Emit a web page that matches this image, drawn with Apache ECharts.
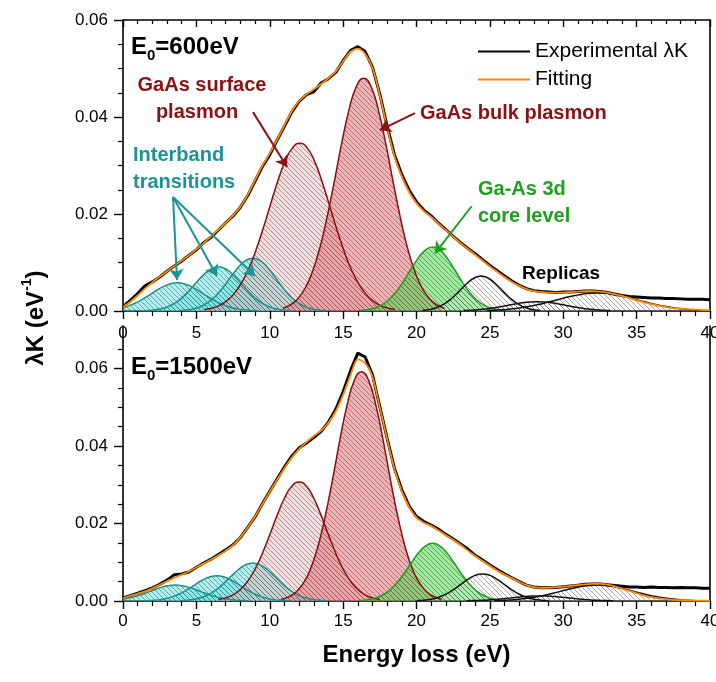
<!DOCTYPE html>
<html>
<head>
<meta charset="utf-8">
<script src="https://cdn.jsdelivr.net/npm/echarts@6/dist/echarts.min.js"></script>
<style>
html, body { margin: 0; padding: 0; background: #fff; }
#chart { width: 716px; height: 682px; }
</style>
</head>
<body>
<div id="chart"></div>
<script>
// energy grid (eV) shared by the measured and fitted curves
var energy = [0,0.5,1,1.5,2,2.5,3,3.5,4,4.5, 5,5.5,6,6.5,7,7.5,8,8.5,9,9.5,
  10,10.5,11,11.5,12,12.5,13,13.5,14,14.5, 15,15.5,16,16.5,17,17.5,18,18.5,19,19.5,
  20,20.5,21,21.5,22,22.5,23,23.5,24,24.5, 25,25.5,26,26.5,27,27.5,28,28.5,29,29.5,
  30,30.5,31,31.5,32,32.5,33,33.5,34,34.5, 35,35.5,36,36.5,37,37.5,38,38.5,39,39.5, 40];

// E0 = 600 eV
var exp600 = [0.0009,0.0022,0.0036,0.0052,0.0060,0.0070,0.0082,0.0093,0.0103,0.0115,
  0.0126,0.0141,0.0152,0.0167,0.0182,0.0196,0.0214,0.0238,0.0268,0.0298,
  0.0322,0.0352,0.0381,0.0410,0.0432,0.0446,0.0452,0.0470,0.0479,0.0492,
  0.0516,0.0537,0.0545,0.0535,0.0503,0.0447,0.0381,0.0322,0.0281,0.0249,
  0.0225,0.0208,0.0196,0.0181,0.0168,0.0154,0.0141,0.0129,0.0118,0.0106,
  0.0094,0.0083,0.0072,0.0062,0.0053,0.0046,0.0042,0.0040,0.0039,0.0038,
  0.0039,0.0039,0.0040,0.0041,0.0041,0.0040,0.0038,0.0035,0.0032,0.0030,
  0.0029,0.0028,0.0027,0.0027,0.0026,0.0026,0.0025,0.0024,0.0024,0.0024, 0.0023];
var fit600 = [0.0008,0.0019,0.0032,0.0046,0.0059,0.0071,0.0082,0.0093,0.0104,0.0115,
  0.0127,0.0140,0.0154,0.0168,0.0182,0.0197,0.0215,0.0240,0.0270,0.0300,
  0.0325,0.0353,0.0383,0.0412,0.0433,0.0447,0.0457,0.0468,0.0480,0.0494,
  0.0515,0.0534,0.0541,0.0530,0.0501,0.0445,0.0378,0.0319,0.0277,0.0245,
  0.0222,0.0206,0.0194,0.0180,0.0167,0.0153,0.0140,0.0128,0.0116,0.0104,
  0.0092,0.0081,0.0070,0.0060,0.0052,0.0045,0.0041,0.0039,0.0038,0.0038,
  0.0038,0.0039,0.0040,0.0041,0.0041,0.0040,0.0038,0.0035,0.0031,0.0027,
  0.0022,0.0018,0.0014,0.0011,0.0008,0.0006,0.0005,0.0004,0.0003,0.0002, 0.0002];

// E0 = 1500 eV
var exp1500 = [0.0008,0.0014,0.0020,0.0027,0.0034,0.0043,0.0054,0.0068,0.0070,0.0075,
  0.0087,0.0098,0.0108,0.0120,0.0132,0.0145,0.0164,0.0190,0.0217,0.0251,
  0.0283,0.0315,0.0346,0.0374,0.0395,0.0408,0.0422,0.0438,0.0462,0.0495,
  0.0540,0.0594,0.0640,0.0630,0.0584,0.0502,0.0420,0.0342,0.0287,0.0245,
  0.0218,0.0205,0.0196,0.0185,0.0172,0.0160,0.0147,0.0134,0.0118,0.0106,
  0.0093,0.0081,0.0070,0.0060,0.0050,0.0041,0.0036,0.0034,0.0034,0.0035,
  0.0037,0.0039,0.0041,0.0043,0.0044,0.0044,0.0042,0.0040,0.0038,0.0036,
  0.0036,0.0035,0.0036,0.0035,0.0035,0.0034,0.0035,0.0034,0.0034,0.0033, 0.0033];
var fit1500 = [0.0007,0.0013,0.0019,0.0025,0.0033,0.0042,0.0051,0.0060,0.0068,0.0076,
  0.0087,0.0097,0.0107,0.0118,0.0130,0.0144,0.0165,0.0190,0.0218,0.0250,
  0.0282,0.0313,0.0343,0.0370,0.0392,0.0410,0.0426,0.0440,0.0460,0.0490,
  0.0532,0.0582,0.0624,0.0614,0.0578,0.0500,0.0418,0.0340,0.0283,0.0242,
  0.0215,0.0202,0.0194,0.0182,0.0170,0.0158,0.0145,0.0130,0.0116,0.0103,
  0.0091,0.0079,0.0068,0.0059,0.0049,0.0041,0.0036,0.0034,0.0034,0.0035,
  0.0037,0.0039,0.0041,0.0043,0.0044,0.0044,0.0042,0.0038,0.0032,0.0026,
  0.0020,0.0014,0.0010,0.0007,0.0005,0.0003,0.0002,0.0002,0.0001,0.0001, 0.0001];

// fitted components, [energy, value], E0 = 600 eV
var ib1_600 = [[0,0.0007],[0.2,0.00088],[0.7,0.00144],[1.2,0.00221],[1.7,0.00313],[2.2,0.0041],[2.7,0.00497],[3.2,0.00558],[3.7,0.0058],[4.2,0.00558],[4.7,0.00497],[5.2,0.0041],[5.7,0.00313],[6.2,0.00221],[6.7,0.00144],[7.2,0.00088],[7.7,0.00049],[8.2,0.00026],[8.7,0.00012],[9.2,0.00005]];
var ib2_600 = [[1.5,0.00007],[2,0.00017],[2.5,0.0004],[3,0.00083],[3.5,0.00157],[4,0.00268],[4.5,0.00417],[5,0.00587],[5.5,0.00749],[6,0.00866],[6.5,0.0091],[7,0.00866],[7.5,0.00749],[8,0.00587],[8.5,0.00417],[9,0.00268],[9.5,0.00157],[10,0.00083],[10.5,0.0004],[11,0.00017],[11.5,0.00007]];
var ib3_600 = [[3.85,0.00008],[4.35,0.00021],[4.85,0.00048],[5.35,0.00099],[5.85,0.00187],[6.35,0.00322],[6.85,0.00499],[7.35,0.00703],[7.85,0.00897],[8.35,0.01038],[8.85,0.0109],[9.35,0.01038],[9.85,0.00897],[10.35,0.00703],[10.85,0.00499],[11.35,0.00322],[11.85,0.00187],[12.35,0.00099],[12.85,0.00048],[13.35,0.00021],[13.85,0.00008]];
var surf_600 = [[5.55,0.00029],[6.05,0.00058],[6.55,0.00112],[7.05,0.00203],[7.55,0.00348],[8.05,0.00564],[8.55,0.00862],[9.05,0.01246],[9.55,0.01702],[10.05,0.02197],[10.55,0.02682],[11.05,0.0309],[11.55,0.03363],[12.05,0.0346],[12.55,0.03363],[13.05,0.0309],[13.55,0.02682],[14.05,0.02197],[14.55,0.01702],[15.05,0.01246],[15.55,0.00862],[16.05,0.00564],[16.55,0.00348],[17.05,0.00203],[17.55,0.00112],[18.05,0.00058],[18.55,0.00029]];
var bulk_600 = [[10.9,0.00058],[11.4,0.00124],[11.9,0.00249],[12.4,0.00464],[12.9,0.00802],[13.4,0.01286],[13.9,0.01925],[14.4,0.02674],[14.9,0.03456],[15.4,0.04147],[15.9,0.04627],[16.4,0.048],[16.9,0.04627],[17.4,0.04147],[17.9,0.03456],[18.4,0.02674],[18.9,0.01925],[19.4,0.01286],[19.9,0.00802],[20.4,0.00464],[20.9,0.00249],[21.4,0.00124],[21.9,0.00058]];
var core_600 = [[16.1,0.0001],[16.6,0.00025],[17.1,0.00058],[17.6,0.0012],[18.1,0.00227],[18.6,0.00389],[19.1,0.00605],[19.6,0.00851],[20.1,0.01086],[20.6,0.01257],[21.1,0.0132],[21.6,0.01257],[22.1,0.01086],[22.6,0.00851],[23.1,0.00605],[23.6,0.00389],[24.1,0.00227],[24.6,0.0012],[25.1,0.00058],[25.6,0.00025],[26.1,0.0001]];
var rep1_600 = [[20.4,0.00012],[20.9,0.00032],[21.4,0.00073],[21.9,0.00146],[22.4,0.00259],[22.9,0.00405],[23.4,0.00558],[23.9,0.00675],[24.4,0.0072],[24.9,0.00675],[25.4,0.00558],[25.9,0.00405],[26.4,0.00259],[26.9,0.00146],[27.4,0.00073],[27.9,0.00032],[28.4,0.00012]];
var rep2_600 = [[23.2,0.00008],[23.7,0.00015],[24.2,0.00026],[24.7,0.00041],[25.2,0.00062],[25.7,0.00087],[26.2,0.00115],[26.7,0.00143],[27.2,0.00168],[27.7,0.00184],[28.2,0.0019],[28.7,0.00184],[29.2,0.00168],[29.7,0.00143],[30.2,0.00115],[30.7,0.00087],[31.2,0.00062],[31.7,0.00041],[32.2,0.00026],[32.7,0.00015],[33.2,0.00008]];
var rep3_600 = [[24.8,0.0001],[25.3,0.00016],[25.8,0.00025],[26.3,0.00037],[26.8,0.00054],[27.3,0.00075],[27.8,0.00102],[28.3,0.00133],[28.8,0.00169],[29.3,0.00208],[29.8,0.00248],[30.3,0.00287],[30.8,0.0032],[31.3,0.00347],[31.8,0.00364],[32.3,0.0037],[32.8,0.00364],[33.3,0.00347],[33.8,0.0032],[34.3,0.00287],[34.8,0.00248],[35.3,0.00208],[35.8,0.00169],[36.3,0.00133],[36.8,0.00102],[37.3,0.00075],[37.8,0.00054],[38.3,0.00037],[38.8,0.00025],[39.3,0.00016],[39.8,0.0001]];

// fitted components, E0 = 1500 eV
var ib1_1500 = [[0,0.00047],[0.55,0.00087],[1.05,0.00139],[1.55,0.00205],[2.05,0.00278],[2.55,0.00345],[3.05,0.00393],[3.55,0.0041],[4.05,0.00393],[4.55,0.00345],[5.05,0.00278],[5.55,0.00205],[6.05,0.00139],[6.55,0.00087],[7.05,0.00049],[7.55,0.00026],[8.05,0.00012],[8.55,0.00005]];
var ib2_1500 = [[1.4,0.00005],[1.9,0.00012],[2.4,0.00029],[2.9,0.00059],[3.4,0.00112],[3.9,0.00192],[4.4,0.00298],[4.9,0.00419],[5.4,0.00535],[5.9,0.00619],[6.4,0.0065],[6.9,0.00619],[7.4,0.00535],[7.9,0.00419],[8.4,0.00298],[8.9,0.00192],[9.4,0.00112],[9.9,0.00059],[10.4,0.00029],[10.9,0.00012],[11.4,0.00005]];
var ib3_1500 = [[3.85,0.00007],[4.35,0.00019],[4.85,0.00043],[5.35,0.00089],[5.85,0.00169],[6.35,0.00289],[6.85,0.00449],[7.35,0.00632],[7.85,0.00807],[8.35,0.00933],[8.85,0.0098],[9.35,0.00933],[9.85,0.00807],[10.35,0.00632],[10.85,0.00449],[11.35,0.00289],[11.85,0.00169],[12.35,0.00089],[12.85,0.00043],[13.35,0.00019],[13.85,0.00007]];
var surf_1500 = [[6.5,0.00037],[7,0.0008],[7.5,0.00159],[8,0.00297],[8.5,0.00513],[9,0.00823],[9.5,0.01231],[10,0.0171],[10.5,0.0221],[11,0.02652],[11.5,0.0296],[12,0.0307],[12.5,0.0296],[13,0.02652],[13.5,0.0221],[14,0.0171],[14.5,0.01231],[15,0.00823],[15.5,0.00513],[16,0.00297],[16.5,0.00159],[17,0.0008],[17.5,0.00037]];
var bulk_1500 = [[10.75,0.00042],[11.25,0.001],[11.75,0.00217],[12.25,0.00435],[12.75,0.00799],[13.25,0.01362],[13.75,0.02137],[14.25,0.03078],[14.75,0.04103],[15.25,0.05026],[15.75,0.05683],[16.25,0.0592],[16.75,0.05683],[17.25,0.05026],[17.75,0.04103],[18.25,0.03078],[18.75,0.02137],[19.25,0.01362],[19.75,0.00799],[20.25,0.00435],[20.75,0.00217],[21.25,0.001],[21.75,0.00042]];
var core_1500 = [[16.1,0.00011],[16.6,0.00028],[17.1,0.00066],[17.6,0.00136],[18.1,0.00256],[18.6,0.0044],[19.1,0.00682],[19.6,0.00961],[20.1,0.01226],[20.6,0.01418],[21.1,0.0149],[21.6,0.01418],[22.1,0.01226],[22.6,0.00961],[23.1,0.00682],[23.6,0.0044],[24.1,0.00256],[24.6,0.00136],[25.1,0.00066],[25.6,0.00028],[26.1,0.00011]];
var rep1_1500 = [[20,0.00008],[20.5,0.0002],[21,0.00046],[21.5,0.00095],[22,0.00174],[22.5,0.00288],[23,0.00425],[23.5,0.00561],[24,0.00662],[24.5,0.007],[25,0.00662],[25.5,0.00561],[26,0.00425],[26.5,0.00288],[27,0.00174],[27.5,0.00095],[28,0.00046],[28.5,0.0002],[29,0.00008]];
var rep2_1500 = [[23.4,0.00006],[23.9,0.0001],[24.4,0.00018],[24.9,0.00028],[25.4,0.00042],[25.9,0.0006],[26.4,0.00079],[26.9,0.00098],[27.4,0.00115],[27.9,0.00126],[28.4,0.0013],[28.9,0.00126],[29.4,0.00115],[29.9,0.00098],[30.4,0.00079],[30.9,0.0006],[31.4,0.00042],[31.9,0.00028],[32.4,0.00018],[32.9,0.0001],[33.4,0.00006]];
var rep3_1500 = [[25.3,0.00008],[25.8,0.00014],[26.3,0.00023],[26.8,0.00036],[27.3,0.00055],[27.8,0.00081],[28.3,0.00114],[28.8,0.00154],[29.3,0.002],[29.8,0.00249],[30.3,0.00298],[30.8,0.00342],[31.3,0.00378],[31.8,0.00402],[32.3,0.0041],[32.8,0.00402],[33.3,0.00378],[33.8,0.00342],[34.3,0.00298],[34.8,0.00249],[35.3,0.002],[35.8,0.00154],[36.3,0.00114],[36.8,0.00081],[37.3,0.00055],[37.8,0.00036],[38.3,0.00023],[38.8,0.00014],[39.3,0.00008]];

// tick values
var yTicks = [0, 0.02, 0.04, 0.06];
var yMinorTicks = [0.005, 0.01, 0.015, 0.025, 0.03, 0.035, 0.045, 0.05, 0.055, 0.065];

// annotation arrows (data coordinates of the upper panel): [from, to]
var arrowSurface = [[8.86, 0.0410], [11.18, 0.0297]];
var arrowBulk = [[19.9, 0.0408], [17.5, 0.0373]];
var arrowsInterband = [[[3.41, 0.0235], [3.68, 0.0064]], [[3.41, 0.0235], [6.4, 0.0072]], [[3.41, 0.0235], [9.0, 0.0072]]];
var arrowCore = [[23.76, 0.0216], [21.26, 0.0119]];

var FONT = "'Liberation Sans', Arial, sans-serif";
var RED = '#8b1212', TEAL = '#1a9494', GREEN = '#1f9f1f';

function hatch(bg) {
  var s = 5;
  var c = document.createElement('canvas');
  c.width = s; c.height = s;
  var g = c.getContext('2d');
  g.fillStyle = bg;
  g.fillRect(0, 0, s, s);
  g.strokeStyle = 'rgba(45,45,45,0.42)';
  g.lineWidth = 1;
  g.beginPath();
  g.moveTo(0, 0); g.lineTo(s, s);
  g.moveTo(s - 1, -1); g.lineTo(s + 1, 1);
  g.moveTo(-1, s - 1); g.lineTo(1, s + 1);
  g.stroke();
  return c;
}

var kinds = {
  ib:   { line: '#1c8f8f', bg: 'rgba(95,225,225,0.5)' },
  surf: { line: '#8b0d0d', bg: 'rgba(232,160,160,0.35)' },
  bulk: { line: '#8b0d0d', bg: 'rgba(235,115,122,0.55)' },
  core: { line: '#1f9d1f', bg: 'rgba(60,215,60,0.5)' },
  rep:  { line: '#111111', bg: 'rgba(255,255,255,0.15)' }
};

function comp(data, kind, panel) {
  var k = kinds[kind];
  return {
    type: 'line', name: kind, data: data,
    xAxisIndex: panel === 1 ? 2 : 0, yAxisIndex: panel === 1 ? 2 : 0,
    smooth: 0.5, symbol: 'none', silent: true, z: 2,
    lineStyle: { color: k.line, width: 1.5 },
    itemStyle: { color: k.line },
    areaStyle: { color: { image: hatch(k.bg), repeat: 'repeat' }, opacity: 1 }
  };
}

function pairs(xs, ys) {
  return xs.map(function (x, i) { return [x, ys[i]]; });
}

function arrow(a, color) {
  return [
    { coord: a[0], lineStyle: { color: color, width: 2, type: 'solid' }, itemStyle: { color: color } },
    { coord: a[1] }
  ];
}

var arrowData = [arrow(arrowSurface, RED), arrow(arrowBulk, RED), arrow(arrowCore, GREEN)]
  .concat(arrowsInterband.map(function (a) { return arrow(a, TEAL); }));

var series = [
  comp(ib1_600, 'ib', 0), comp(ib2_600, 'ib', 0), comp(ib3_600, 'ib', 0),
  comp(surf_600, 'surf', 0), comp(bulk_600, 'bulk', 0), comp(core_600, 'core', 0),
  comp(rep1_600, 'rep', 0), comp(rep2_600, 'rep', 0), comp(rep3_600, 'rep', 0),
  comp(ib1_1500, 'ib', 1), comp(ib2_1500, 'ib', 1), comp(ib3_1500, 'ib', 1),
  comp(surf_1500, 'surf', 1), comp(bulk_1500, 'bulk', 1), comp(core_1500, 'core', 1),
  comp(rep1_1500, 'rep', 1), comp(rep2_1500, 'rep', 1), comp(rep3_1500, 'rep', 1)
];

[[exp600, fit600, 0], [exp1500, fit1500, 2]].forEach(function (p) {
  series.push({
    type: 'line', name: 'Experimental λK', data: pairs(energy, p[0]),
    xAxisIndex: p[2], yAxisIndex: p[2], symbol: 'none', z: 3, silent: true,
    lineStyle: { color: '#000', width: 3 }, itemStyle: { color: '#000' }
  });
  var fit = {
    type: 'line', name: 'Fitting', data: pairs(energy, p[1]),
    xAxisIndex: p[2], yAxisIndex: p[2], symbol: 'none', smooth: 0.3, z: 4, silent: true,
    lineStyle: { color: '#ff8a00', width: 1.8 }, itemStyle: { color: '#ff8a00' }
  };
  if (p[2] === 0) {
    fit.markLine = {
      silent: true, symbol: ['none', 'arrow'], symbolSize: 11,
      label: { show: false }, data: arrowData
    };
  }
  series.push(fit);
});

var axisLine = { show: true, onZero: false, lineStyle: { color: '#000', width: 1.6 } };
var labelStyle = { color: '#000', fontSize: 17, fontFamily: FONT };

var chart = echarts.init(document.getElementById('chart'));
chart.setOption({
  animation: false,
  backgroundColor: '#fff',
  grid: [
    { left: 123, top: 20, width: 587, height: 291, outerBoundsMode: 'none' },
    { left: 123, top: 326, width: 587, height: 275, outerBoundsMode: 'none' }
  ],
  legend: {
    data: ['Experimental λK', 'Fitting'],
    orient: 'vertical', left: 472, top: 36,
    itemWidth: 52, itemHeight: 12, itemGap: 7,
    itemStyle: { opacity: 0 },
    textStyle: { color: '#000', fontSize: 21, fontFamily: FONT }
  },
  xAxis: [
    { type: 'value', gridIndex: 0, min: 0, max: 40, interval: 5, position: 'bottom',
      axisLine: axisLine, splitLine: { show: false },
      axisTick: { length: 8, lineStyle: { width: 1.4 } },
      minorTick: { show: true, splitNumber: 5, length: 5, lineStyle: { color: '#000', width: 1.2 } },
      axisLabel: Object.assign({ margin: 14 }, labelStyle) },
    { type: 'value', gridIndex: 0, min: 0, max: 40, interval: 5, position: 'top',
      axisLine: axisLine, splitLine: { show: false },
      axisTick: { inside: true, length: 7, lineStyle: { width: 1.4 } },
      minorTick: { show: true, splitNumber: 5, length: 4, lineStyle: { color: '#000', width: 1.2 } },
      axisLabel: { show: false } },
    { type: 'value', gridIndex: 1, min: 0, max: 40, interval: 5, position: 'bottom',
      axisLine: axisLine, splitLine: { show: false },
      axisTick: { length: 8, lineStyle: { width: 1.4 } },
      minorTick: { show: true, splitNumber: 5, length: 5, lineStyle: { color: '#000', width: 1.2 } },
      axisLabel: Object.assign({ margin: 12 }, labelStyle),
      name: 'Energy loss (eV)', nameLocation: 'middle', nameGap: 42,
      nameTextStyle: { color: '#000', fontSize: 24, fontWeight: 'bold', fontFamily: FONT } }
  ],
  yAxis: [
    { type: 'value', gridIndex: 0, min: 0, max: 0.06, interval: 0.02, position: 'left',
      axisLine: axisLine, splitLine: { show: false },
      axisTick: { length: 9, lineStyle: { width: 1.4 } },
      minorTick: { show: true, splitNumber: 4, length: 5, lineStyle: { color: '#000', width: 1.2 } },
      axisLabel: Object.assign({ margin: 15, formatter: function (v) { return v.toFixed(2); } }, labelStyle) },
    { type: 'value', gridIndex: 0, min: 0, max: 0.06, position: 'right',
      axisLine: axisLine, splitLine: { show: false }, axisTick: { show: false }, axisLabel: { show: false } },
    { type: 'value', gridIndex: 1, min: 0, max: 0.071, position: 'left',
      axisLine: axisLine, splitLine: { show: false },
      axisTick: { length: 9, customValues: yTicks, lineStyle: { width: 1.4 } },
      axisLabel: Object.assign({ margin: 15, customValues: yTicks, formatter: function (v) { return v.toFixed(2); } }, labelStyle) },
    { type: 'value', gridIndex: 1, min: 0, max: 0.071, position: 'left',
      axisLine: { show: false }, splitLine: { show: false },
      axisTick: { length: 5, customValues: yMinorTicks, lineStyle: { color: '#000', width: 1.2 } },
      axisLabel: { show: false } },
    { type: 'value', gridIndex: 1, min: 0, max: 0.071, position: 'right',
      axisLine: axisLine, splitLine: { show: false }, axisTick: { show: false }, axisLabel: { show: false } }
  ],
  graphic: [
    { type: 'text', x: 131, y: 47, style: { text: '{a|E}{b|0}{a|=600eV}', textVerticalAlign: 'middle',
        rich: { a: { fontSize: 24, fontWeight: 'bold', fontFamily: FONT, lineHeight: 32, fill: '#000' },
                b: { fontSize: 15, fontWeight: 'bold', fontFamily: FONT, lineHeight: 12, verticalAlign: 'bottom', fill: '#000' } } } },
    { type: 'text', x: 131, y: 367, style: { text: '{a|E}{b|0}{a|=1500eV}', textVerticalAlign: 'middle',
        rich: { a: { fontSize: 24, fontWeight: 'bold', fontFamily: FONT, lineHeight: 32, fill: '#000' },
                b: { fontSize: 15, fontWeight: 'bold', fontFamily: FONT, lineHeight: 12, verticalAlign: 'bottom', fill: '#000' } } } },
    { type: 'text', x: 36, y: 318, rotation: Math.PI / 2, style: { text: '{a|λK (eV}{s|-1}{a|)}', textAlign: 'center', textVerticalAlign: 'middle',
        rich: { a: { fontSize: 24, fontWeight: 'bold', fontFamily: FONT, lineHeight: 32, fill: '#000' },
                s: { fontSize: 14, fontWeight: 'bold', fontFamily: FONT, lineHeight: 14, verticalAlign: 'top', fill: '#000' } } } },
    { type: 'text', x: 202, y: 85, style: { text: 'GaAs surface', fill: RED, font: 'bold 20px ' + FONT, textAlign: 'center', textVerticalAlign: 'middle' } },
    { type: 'text', x: 197, y: 112, style: { text: 'plasmon', fill: RED, font: 'bold 20px ' + FONT, textAlign: 'center', textVerticalAlign: 'middle' } },
    { type: 'text', x: 420, y: 113, style: { text: 'GaAs bulk plasmon', fill: RED, font: 'bold 20px ' + FONT, textAlign: 'left', textVerticalAlign: 'middle' } },
    { type: 'text', x: 133, y: 155, style: { text: 'Interband', fill: TEAL, font: 'bold 20px ' + FONT, textAlign: 'left', textVerticalAlign: 'middle' } },
    { type: 'text', x: 133, y: 182, style: { text: 'transitions', fill: TEAL, font: 'bold 20px ' + FONT, textAlign: 'left', textVerticalAlign: 'middle' } },
    { type: 'text', x: 478, y: 189, style: { text: 'Ga-As 3d', fill: GREEN, font: 'bold 20px ' + FONT, textAlign: 'left', textVerticalAlign: 'middle' } },
    { type: 'text', x: 478, y: 216, style: { text: 'core level', fill: GREEN, font: 'bold 20px ' + FONT, textAlign: 'left', textVerticalAlign: 'middle' } },
    { type: 'text', x: 522, y: 274, style: { text: 'Replicas', fill: '#000', font: 'bold 19px ' + FONT, textAlign: 'left', textVerticalAlign: 'middle' } }
  ],
  series: series
});
</script>
</body>
</html>
